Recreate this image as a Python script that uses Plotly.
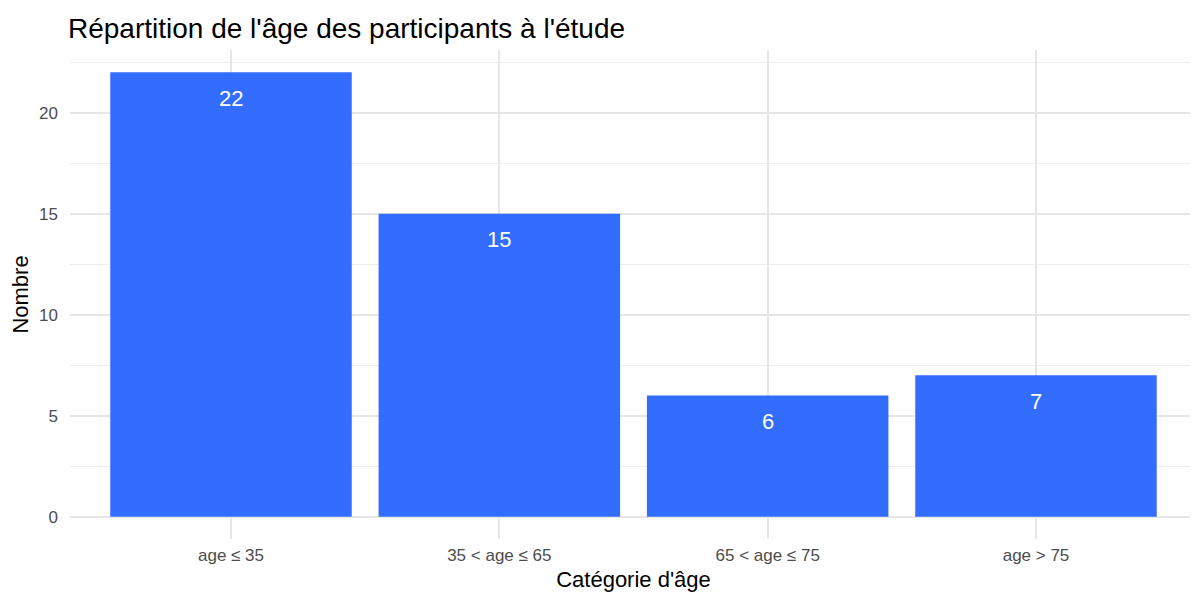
import plotly.graph_objects as go

categories = ["age ≤ 35", "35 < age ≤ 65", "65 < age ≤ 75", "age > 75"]
counts = [22, 15, 6, 7]
y_ticks = [0, 5, 10, 15, 20]

# The page body adds an 8px offset; size the figure to fit the window.
W, H = 1190, 589
font_family = "Liberation Sans, Arial, sans-serif"

fig = go.Figure()
fig.add_trace(go.Bar(
    x=categories, y=counts, width=0.9,
    marker=dict(color="#336DFF", line=dict(width=0)),
    hoverinfo="skip",
))
for c, v in zip(categories, counts):
    fig.add_annotation(x=c, y=v, text=str(v), showarrow=False, yshift=-26,
                       font=dict(color="white", size=22, family=font_family))

fig.update_layout(
    width=W, height=H,
    margin=dict(l=62, r=1, t=42, b=58, autoexpand=False),
    plot_bgcolor="white", paper_bgcolor="white",
    font=dict(family=font_family),
    showlegend=False,
    bargap=0.1,
    title=dict(text="Répartition de l'âge des participants à l'étude",
               x=60 / W, xref="container", xanchor="left",
               y=1 - 20 / H, yref="container", yanchor="middle",
               font=dict(size=28, color="black", family=font_family)),
)
fig.update_xaxes(
    type="category", range=[-0.6, 3.6],
    showgrid=True, gridcolor="#E6E6E6", gridwidth=1.5,
    ticks="", ticklabelstandoff=4,
    tickfont=dict(size=17, color="#4D4D4D"),
    title=dict(text="Catégorie d'âge", font=dict(size=22, color="black"), standoff=7),
    zeroline=False, showline=False, automargin=False,
)
fig.update_yaxes(
    range=[-1.1, 23.1], tickvals=y_ticks,
    showgrid=True, gridcolor="#E6E6E6", gridwidth=1.5,
    minor=dict(tickvals=[2.5, 7.5, 12.5, 17.5, 22.5], showgrid=True,
               gridcolor="#EEEEEE", gridwidth=1.2),
    ticks="", ticklabelstandoff=11,
    tickfont=dict(size=17, color="#4D4D4D"),
    title=dict(text="Nombre", font=dict(size=22, color="black"), standoff=6),
    zeroline=False, showline=False, automargin=False,
)

fig.write_html("out.html")
